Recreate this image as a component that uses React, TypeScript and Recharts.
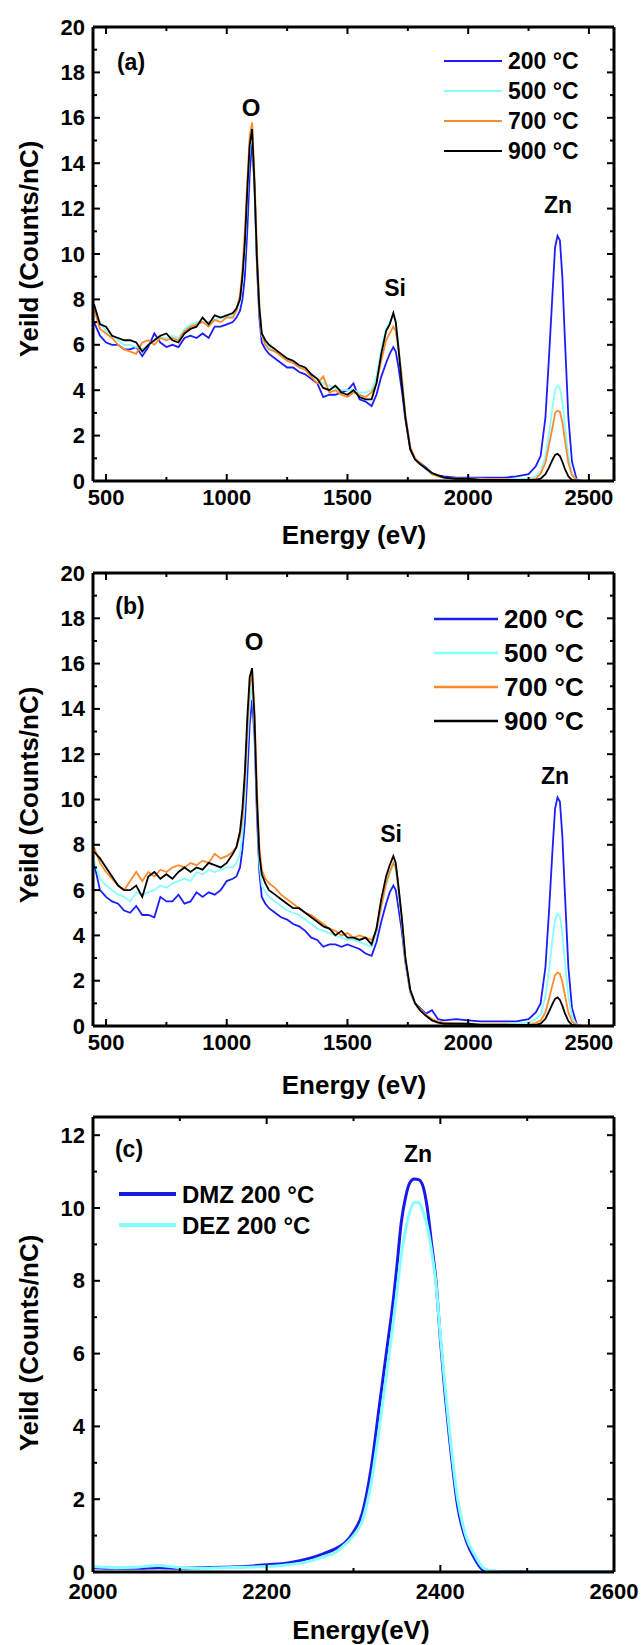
import React from 'react';
import { LineChart, Line, XAxis, YAxis, Legend } from 'recharts';

const FONT = '"Liberation Sans", Arial, Helvetica, sans-serif';

// ---------- shared energy grid for panels (a) and (b) ----------
const energyAB = [
  450, 475, 500, 525, 550, 575, 600, 625, 650, 675, 700, 725, 750, 775, 800, 825, 850, 875, 900, 925, 950, 975, 1000, 1025,
  1040, 1055, 1065, 1075, 1085, 1095, 1105, 1115, 1125, 1135, 1145, 1160, 1175,
  1200, 1225, 1250, 1275, 1300, 1325, 1350, 1375, 1400, 1425, 1450, 1475, 1500, 1525, 1550, 1575, 1600,
  1620, 1640, 1660, 1675, 1690, 1700, 1710, 1725, 1740, 1760, 1780, 1800,
  1825, 1850, 1875, 1900,
  1950, 2000, 2050, 2100, 2150, 2200, 2250,
  2280, 2300, 2320, 2335, 2350, 2360, 2370, 2380, 2390, 2400, 2415, 2430, 2450,
  2475, 2500, 2550, 2600,
];

// ---------- panel (a) ----------
const aBlue = [
  7.0, 6.4, 6.1, 6.0, 6.0, 5.8, 5.8, 5.9, 5.5, 5.9, 6.5, 6.1, 5.9, 6.0, 5.9, 6.3, 6.4, 6.3, 6.5, 6.3, 6.8, 6.8, 6.9, 7.0,
  7.2, 7.5, 8.0, 9.0, 11.0, 13.5, 15.0, 13.0, 9.5, 7.2, 6.1, 5.8, 5.6,
  5.4, 5.2, 5.0, 5.0, 4.8, 4.7, 4.5, 4.3, 3.7, 3.8, 3.8, 3.9, 4.0, 4.3, 3.6, 3.5, 3.3,
  3.8, 4.6, 5.2, 5.6, 5.9, 5.7, 5.1, 4.0, 2.7, 1.4, 0.95, 0.8,
  0.6, 0.35, 0.25, 0.2,
  0.15, 0.15, 0.15, 0.15, 0.15, 0.2, 0.3,
  0.65, 1.1, 2.8, 5.5, 8.4, 10.3, 10.8, 10.6, 9.0, 6.4, 2.8, 0.85, 0.05,
  0, 0, 0, 0,
];
const aCyan = [
  7.4, 7.0, 6.6, 6.4, 6.2, 6.0, 6.0, 5.9, 5.8, 6.0, 6.2, 6.3, 6.3, 6.4, 6.3, 6.7, 6.9, 7.0, 7.0, 7.0, 7.1, 7.2, 7.2, 7.3,
  7.5, 7.9, 8.8, 10.2, 12.5, 14.6, 15.3, 13.0, 9.8, 7.5, 6.4, 6.1, 5.9,
  5.7, 5.5, 5.3, 5.2, 5.0, 4.9, 4.7, 4.5, 4.3, 4.2, 4.1, 4.0, 4.0, 4.0, 3.9, 3.9, 4.0,
  4.6, 5.8, 6.7, 7.0, 7.3, 7.0, 6.1, 4.6, 2.9, 1.5, 1.0, 0.75,
  0.5, 0.3, 0.2, 0.15,
  0.1, 0.1, 0.1, 0.08, 0.08, 0.08, 0.1,
  0.2, 0.43, 1.1, 2.1, 3.3, 4.0, 4.2, 4.1, 3.5, 2.5, 1.1, 0.33, 0.02,
  0, 0, 0, 0,
];
const aOrange = [
  7.6, 6.7, 6.5, 6.3, 6.0, 5.8, 5.7, 5.6, 6.1, 6.2, 6.0, 6.3, 6.2, 6.3, 6.2, 6.6, 6.8, 6.9, 7.0, 6.8, 7.1, 7.0, 7.2, 7.2,
  7.5, 8.2, 9.3, 11.0, 13.2, 15.2, 15.8, 13.4, 10.3, 7.8, 6.5, 6.0, 5.8,
  5.7, 5.5, 5.3, 5.2, 5.0, 4.9, 4.6, 4.3, 4.6, 3.9, 4.0, 3.8, 3.7, 3.9, 3.8, 3.7, 3.9,
  4.3, 5.3, 6.2, 6.5, 6.8, 6.6, 5.9, 4.6, 2.9, 1.5, 1.0, 0.8,
  0.55, 0.3, 0.2, 0.15,
  0.12, 0.1, 0.08, 0.08, 0.08, 0.05, 0.05,
  0.1, 0.32, 0.8, 1.6, 2.4, 3.0, 3.1, 3.05, 2.6, 1.85, 0.8, 0.25, 0.03,
  0.02, 0.02, 0.02, 0.02,
];
const aBlack = [
  7.8, 6.9, 6.8, 6.4, 6.3, 6.2, 6.2, 6.1, 5.7, 6.0, 6.2, 6.4, 6.5, 6.2, 6.1, 6.5, 6.7, 6.8, 7.2, 6.9, 7.3, 7.2, 7.3, 7.4,
  7.6, 8.0, 9.0, 10.5, 12.8, 14.8, 15.5, 13.0, 9.8, 7.6, 6.5, 6.2, 6.0,
  5.8, 5.6, 5.4, 5.3, 5.1, 5.0, 4.7, 4.5, 4.1, 4.0, 4.2, 3.9, 3.8, 4.0, 3.7, 3.6, 3.6,
  4.3, 5.6, 6.6, 6.9, 7.4, 7.0, 6.0, 4.3, 2.8, 1.4, 0.95, 0.75,
  0.55, 0.35, 0.25, 0.15,
  0.1, 0.1, 0.05, 0.05, 0.05, 0.05, 0.05,
  0.05, 0.1, 0.3, 0.6, 0.95, 1.15, 1.2, 1.1, 0.85, 0.55, 0.2, 0.05, 0,
  0, 0, 0, 0,
];

// ---------- panel (b) ----------
const bBlue = [
  7.2, 6.0, 5.7, 5.5, 5.4, 5.1, 5.0, 5.3, 4.9, 4.9, 4.8, 5.7, 5.5, 5.5, 5.8, 5.4, 5.5, 5.9, 5.7, 5.9, 5.8, 6.0, 6.4, 6.5,
  6.6, 7.0, 7.8, 9.0, 11.0, 13.3, 14.4, 12.8, 9.3, 6.8, 5.7, 5.4, 5.2,
  5.0, 4.8, 4.7, 4.5, 4.4, 4.2, 3.9, 3.8, 3.5, 3.6, 3.6, 3.5, 3.6, 3.5, 3.4, 3.2, 3.1,
  3.7, 4.6, 5.4, 5.9, 6.2, 6.0, 5.3, 4.2, 2.8, 1.5, 1.0, 0.8,
  0.55, 0.7, 0.3, 0.25,
  0.3, 0.25, 0.2, 0.2, 0.2, 0.2, 0.3,
  0.6, 1.0, 2.6, 5.1, 7.9, 9.6, 10.1, 9.9, 8.4, 6.0, 2.6, 0.8, 0.05,
  0, 0, 0, 0,
];
const bCyan = [
  7.3, 6.5, 6.2, 6.0, 5.8, 5.7, 5.5, 5.9, 5.8, 5.9, 6.0, 6.2, 6.1, 6.3, 6.4, 6.5, 6.4, 6.8, 6.7, 6.9, 6.8, 6.9, 7.0, 7.0,
  7.2, 7.6, 8.5, 10.0, 12.3, 14.3, 15.1, 13.2, 9.8, 7.2, 6.2, 5.9, 5.7,
  5.5, 5.3, 5.1, 5.0, 4.9, 4.7, 4.5, 4.3, 4.2, 4.1, 4.0, 3.9, 3.8, 3.8, 3.7, 3.6, 3.5,
  4.1, 5.2, 6.2, 6.7, 7.2, 6.9, 6.0, 4.6, 2.9, 1.5, 1.0, 0.7,
  0.45, 0.3, 0.2, 0.15,
  0.12, 0.1, 0.1, 0.1, 0.1, 0.1, 0.15,
  0.3, 0.5, 1.3, 2.5, 3.9, 4.7, 4.96, 4.85, 4.1, 2.9, 1.3, 0.4, 0.03,
  0, 0, 0, 0,
];
const bOrange = [
  7.9, 7.2, 6.8, 6.5, 6.2, 6.0, 6.4, 6.8, 6.4, 6.8, 6.6, 6.9, 6.8, 7.0, 7.1, 7.0, 7.2, 7.1, 7.3, 7.2, 7.6, 7.4, 7.5, 7.7,
  7.9, 8.4, 9.2, 10.8, 13.0, 15.0, 15.5, 13.9, 10.5, 7.9, 6.9, 6.5, 6.3,
  6.1, 5.8, 5.6, 5.4, 5.2, 5.0, 4.9, 4.7, 4.5, 4.3, 4.2, 4.0, 4.1, 3.9, 4.0, 3.9, 3.8,
  4.2, 5.3, 6.3, 6.8, 7.2, 7.0, 6.2, 4.8, 3.0, 1.6, 1.0, 0.75,
  0.5, 0.3, 0.2, 0.15,
  0.12, 0.1, 0.08, 0.08, 0.08, 0.05, 0.05,
  0.14, 0.24, 0.6, 1.2, 1.85, 2.25, 2.36, 2.3, 1.95, 1.4, 0.6, 0.2, 0.02,
  0.02, 0.02, 0.02, 0.02,
];
const bBlack = [
  7.7, 7.4, 7.0, 6.6, 6.2, 6.0, 6.0, 6.2, 5.7, 6.6, 6.8, 6.5, 6.7, 6.5, 6.8, 7.0, 6.8, 7.0, 6.9, 7.2, 7.1, 7.0, 7.2, 7.6,
  7.9, 8.6, 9.6, 11.2, 13.6, 15.4, 15.8, 13.6, 10.0, 7.6, 6.7, 6.3, 6.0,
  5.8, 5.6, 5.4, 5.2, 5.2, 5.0, 4.8, 4.6, 4.4, 4.3, 4.0, 4.2, 3.9, 3.9, 3.8, 3.9, 3.6,
  4.3, 5.6, 6.6, 7.1, 7.5, 7.2, 6.3, 4.8, 3.0, 1.6, 1.0, 0.7,
  0.45, 0.25, 0.15, 0.1,
  0.1, 0.1, 0.05, 0.05, 0.05, 0.05, 0.05,
  0.05, 0.1, 0.32, 0.65, 1.0, 1.2, 1.26, 1.15, 0.9, 0.58, 0.22, 0.05, 0,
  0, 0, 0, 0,
];

// ---------- panel (c) ----------
const energyC = [
  2000, 2025, 2050, 2075, 2100, 2125, 2150, 2175, 2200, 2225, 2250, 2265, 2280, 2290, 2300, 2310, 2320, 2330, 2340, 2345,
  2350, 2355, 2360, 2365, 2370, 2375, 2380, 2385, 2390, 2395, 2400, 2405, 2410, 2420, 2430, 2440, 2450, 2460, 2480, 2500,
  2550, 2600,
];
const cDMZ = [
  0.12, 0.1, 0.1, 0.12, 0.1, 0.12, 0.13, 0.15, 0.2, 0.25, 0.38, 0.5, 0.65, 0.8, 1.1, 1.6, 2.8, 4.6, 6.4, 7.3,
  8.4, 9.6, 10.3, 10.7, 10.8, 10.78, 10.6, 10.0, 9.0, 8.0, 6.4, 5.0, 3.8, 1.8, 0.85, 0.35, 0.05, 0.02, 0, 0,
  0, 0,
];
const cDEZ = [
  0.15, 0.12, 0.13, 0.18, 0.12, 0.1, 0.12, 0.13, 0.15, 0.2, 0.3, 0.42, 0.55, 0.75, 1.0, 1.4, 2.4, 4.0, 5.8, 6.7,
  7.7, 8.7, 9.4, 9.9, 10.15, 10.15, 9.9, 9.5, 8.8, 7.9, 6.5, 5.2, 4.0, 2.0, 0.95, 0.45, 0.1, 0.02, 0, 0,
  0, 0,
];

// ---------- labels / ticks ----------
const tempNames = ['200 °C', '500 °C', '700 °C', '900 °C'];
const tempColors = ['#1c1cff', '#86ffff', '#ff8a2a', '#000000'];
const cNames = ['DMZ 200 °C', 'DEZ 200 °C'];
const cColors = ['#1a1ae8', '#86ffff'];

const xTicksAB = [500, 750, 1000, 1250, 1500, 1750, 2000, 2250, 2500];
const yTicksAB = [0, 1, 2, 3, 4, 5, 6, 7, 8, 9, 10, 11, 12, 13, 14, 15, 16, 17, 18, 19, 20];
const xTicksC = [2000, 2100, 2200, 2300, 2400, 2500, 2600];
const yTicksC = [0, 1, 2, 3, 4, 5, 6, 7, 8, 9, 10, 11, 12];

const rowsA = energyAB.map((e, i) => ({ e, s0: aBlue[i], s1: aCyan[i], s2: aOrange[i], s3: aBlack[i] }));
const rowsB = energyAB.map((e, i) => ({ e, s0: bBlue[i], s1: bCyan[i], s2: bOrange[i], s3: bBlack[i] }));
const rowsC = energyC.map((e, i) => ({ e, s0: cDMZ[i], s1: cDEZ[i] }));

type Side = 'bottom' | 'top' | 'left' | 'right';

function makeTick(side: Side, isMajor: (v: number) => boolean, showLabel: boolean, fs: number, gap: number) {
  return (props: any) => {
    const { x, y, payload } = props;
    const v = payload.value as number;
    const major = isMajor(v);
    const len = major ? 7 : 4;
    let x2 = x;
    let y2 = y;
    if (side === 'bottom') y2 = y - len;
    else if (side === 'top') y2 = y + len;
    else if (side === 'left') x2 = x + len;
    else x2 = x - len;
    return (
      <g>
        <line x1={x} y1={y} x2={x2} y2={y2} stroke="#000" strokeWidth={2} />
        {showLabel && major && side === 'bottom' && (
          <text x={x} y={y + gap} textAnchor="middle" dominantBaseline="central" fontFamily={FONT} fontWeight="bold" fontSize={fs} fill="#000">
            {v}
          </text>
        )}
        {showLabel && major && side === 'left' && (
          <text x={x - gap} y={y} textAnchor="end" dominantBaseline="central" fontFamily={FONT} fontWeight="bold" fontSize={fs} fill="#000">
            {v}
          </text>
        )}
      </g>
    );
  };
}

type LegendCfg = {
  left: number; top: number; w: number; h: number;
  lx1: number; lx2: number; tx: number; row0: number; dy: number; fs: number; sw: number;
};

function makeLegend(cfg: LegendCfg, order: string[]) {
  return (props: any) => {
    const payload: any[] = props.payload || [];
    const items = order.map((n) => payload.find((p) => p.value === n)).filter(Boolean);
    return (
      <svg width={cfg.w} height={cfg.h} style={{ display: 'block', overflow: 'visible' }}>
        {items.map((p: any, i: number) => {
          const yy = cfg.row0 + i * cfg.dy;
          return (
            <g key={p.value}>
              <line x1={cfg.lx1} x2={cfg.lx2} y1={yy} y2={yy} stroke={p.color} strokeWidth={cfg.sw} />
              <text x={cfg.tx} y={yy} dominantBaseline="central" fontFamily={FONT} fontWeight="bold" fontSize={cfg.fs} fill="#000">
                {p.value}
              </text>
            </g>
          );
        })}
      </svg>
    );
  };
}

type PanelProps = {
  top: number; height: number; plotTop: number; plotBottom: number;
  rows: any[]; names: string[]; colors: string[];
  xDomain: [number, number]; xTicks: number[]; xMajor: (v: number) => boolean; xGap: number;
  yDomain: [number, number]; yTicks: number[]; yMajor: (v: number) => boolean;
  sw: number; curve: 'linear' | 'monotone'; legend: LegendCfg;
};

const PLOT_L = 93;
const PLOT_R = 614;
const W = 642;

function Panel(p: PanelProps) {
  const margin = {
    top: p.plotTop - p.top - 1,
    bottom: p.top + p.height - p.plotBottom - 1,
    left: PLOT_L - 1,
    right: W - PLOT_R - 1,
  };
  const axisLine = { stroke: '#000', strokeWidth: 3 };
  return (
    <div style={{ position: 'absolute', left: 0, top: p.top, width: W, height: p.height }}>
      <LineChart width={W} height={p.height} data={p.rows} margin={margin}>
        <XAxis xAxisId="b" dataKey="e" type="number" orientation="bottom" domain={p.xDomain} allowDataOverflow ticks={p.xTicks}
          interval={0} height={1} tickSize={0} tickMargin={0} tickLine={false} axisLine={axisLine}
          tick={makeTick('bottom', p.xMajor, true, 22, p.xGap)} />
        <XAxis xAxisId="t" dataKey="e" type="number" orientation="top" domain={p.xDomain} allowDataOverflow ticks={p.xTicks}
          interval={0} height={1} tickSize={0} tickMargin={0} tickLine={false} axisLine={axisLine}
          tick={makeTick('top', p.xMajor, false, 22, 0)} />
        <YAxis yAxisId="l" type="number" orientation="left" domain={p.yDomain} allowDataOverflow ticks={p.yTicks}
          interval={0} width={1} tickSize={0} tickMargin={0} tickLine={false} axisLine={axisLine}
          tick={makeTick('left', p.yMajor, true, 22, 8)} />
        <YAxis yAxisId="r" type="number" orientation="right" domain={p.yDomain} allowDataOverflow ticks={p.yTicks}
          interval={0} width={1} tickSize={0} tickMargin={0} tickLine={false} axisLine={axisLine}
          tick={makeTick('right', p.yMajor, false, 22, 0)} />
        {p.names.map((n, i) => (
          <Line key={n} xAxisId="b" yAxisId="l" type={p.curve} dataKey={'s' + i} name={n} stroke={p.colors[i]}
            strokeWidth={p.sw} dot={false} activeDot={false} isAnimationActive={false} />
        ))}
        <Legend layout="vertical" align="center" verticalAlign="middle"
          wrapperStyle={{ left: p.legend.left, top: p.legend.top, width: p.legend.w, height: p.legend.h, margin: 0, padding: 0 }}
          content={makeLegend(p.legend, p.names)} />
      </LineChart>
    </div>
  );
}

const notes = [
  { t: '(a)', x: 131, y: 62, fs: 23 },
  { t: 'O', x: 251, y: 107, fs: 24 },
  { t: 'Si', x: 395, y: 288, fs: 23 },
  { t: 'Zn', x: 558, y: 205, fs: 23 },
  { t: '(b)', x: 130, y: 606, fs: 23 },
  { t: 'O', x: 254, y: 641, fs: 24 },
  { t: 'Si', x: 391, y: 834, fs: 23 },
  { t: 'Zn', x: 555, y: 776, fs: 23 },
  { t: '(c)', x: 129, y: 1149, fs: 23 },
  { t: 'Zn', x: 418, y: 1154, fs: 23 },
];
const xTitles = [
  { t: 'Energy (eV)', x: 354, y: 535 },
  { t: 'Energy (eV)', x: 354, y: 1085 },
  { t: 'Energy(eV)', x: 361, y: 1630 },
];
const yTitles = [
  { t: 'Yeild (Counts/nC)', x: 29, y: 249 },
  { t: 'Yeild (Counts/nC)', x: 29, y: 795 },
  { t: 'Yeild (Counts/nC)', x: 29, y: 1343 },
];

export default function App() {
  return (
    <div style={{ position: 'absolute', left: 0, top: 0, width: W, height: 1645, background: '#fff', overflow: 'hidden' }}>
      <Panel top={0} height={546} plotTop={27} plotBottom={481} rows={rowsA} names={tempNames} colors={tempColors}
        xDomain={[446, 2604]} xTicks={xTicksAB} xMajor={(v) => v % 500 === 0} xGap={16}
        yDomain={[0, 20]} yTicks={yTicksAB} yMajor={(v) => v % 2 === 0} sw={1.8} curve="linear"
        legend={{ left: 430, top: 40, w: 200, h: 130, lx1: 14, lx2: 72, tx: 78, row0: 21, dy: 30, fs: 23, sw: 2 }} />
      <Panel top={546} height={546} plotTop={573} plotBottom={1026} rows={rowsB} names={tempNames} colors={tempColors}
        xDomain={[446, 2604]} xTicks={xTicksAB} xMajor={(v) => v % 500 === 0} xGap={16}
        yDomain={[0, 20]} yTicks={yTicksAB} yMajor={(v) => v % 2 === 0} sw={1.8} curve="linear"
        legend={{ left: 420, top: 44, w: 210, h: 150, lx1: 14, lx2: 78, tx: 84, row0: 29, dy: 34, fs: 26, sw: 2.5 }} />
      <Panel top={1092} height={553} plotTop={1117} plotBottom={1572} rows={rowsC} names={cNames} colors={cColors}
        xDomain={[2000, 2600]} xTicks={xTicksC} xMajor={(v) => v % 200 === 0} xGap={19}
        yDomain={[0, 12.5]} yTicks={yTicksC} yMajor={(v) => v % 2 === 0} sw={3} curve="monotone"
        legend={{ left: 105, top: 78, w: 240, h: 70, lx1: 14, lx2: 71, tx: 77, row0: 24, dy: 31, fs: 24, sw: 4 }} />
      <svg width={W} height={1645} style={{ position: 'absolute', left: 0, top: 0, pointerEvents: 'none' }}>
        {notes.map((n, i) => (
          <text key={'n' + i} x={n.x} y={n.y} textAnchor="middle" dominantBaseline="central" fontFamily={FONT}
            fontWeight="bold" fontSize={n.fs} fill="#000">{n.t}</text>
        ))}
        {xTitles.map((n, i) => (
          <text key={'x' + i} x={n.x} y={n.y} textAnchor="middle" dominantBaseline="central" fontFamily={FONT}
            fontWeight="bold" fontSize={26} fill="#000">{n.t}</text>
        ))}
        {yTitles.map((n, i) => (
          <text key={'y' + i} x={n.x} y={n.y} textAnchor="middle" dominantBaseline="central" fontFamily={FONT}
            fontWeight="bold" fontSize={26} fill="#000" transform={`rotate(-90 ${n.x} ${n.y})`}>{n.t}</text>
        ))}
      </svg>
    </div>
  );
}
